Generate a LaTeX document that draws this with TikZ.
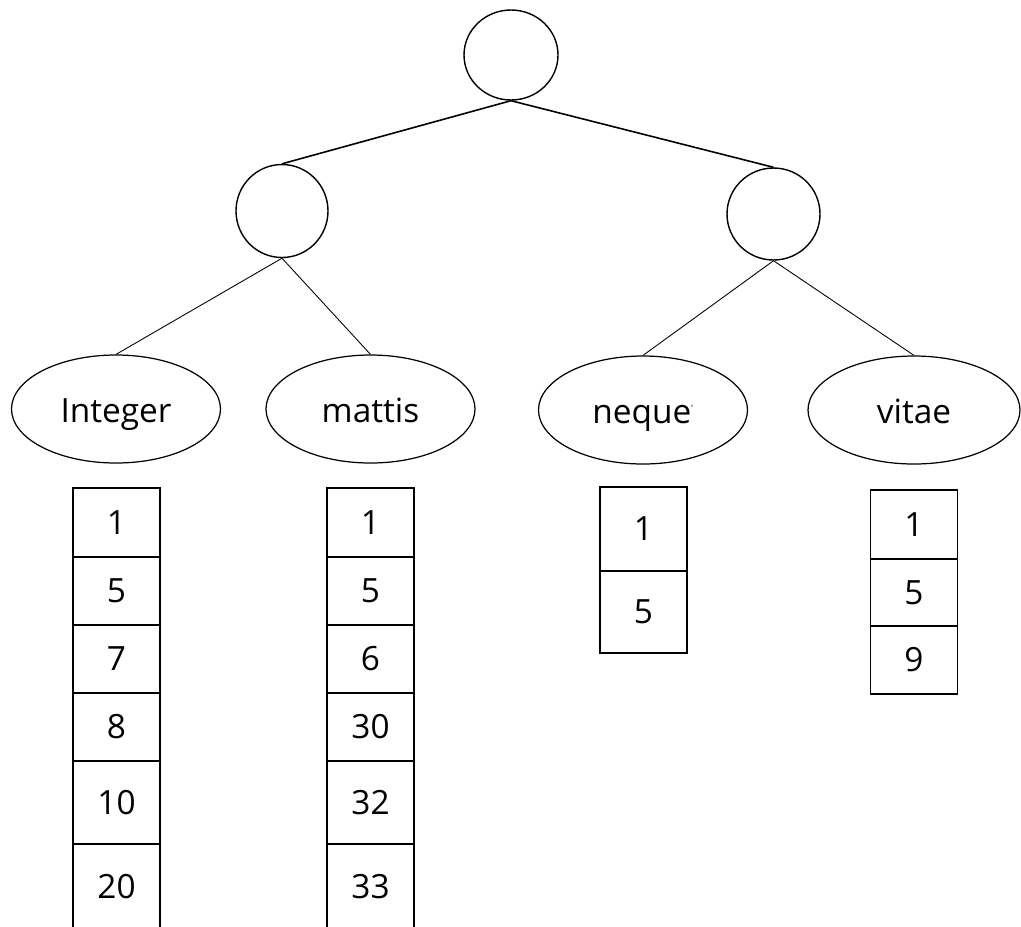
\documentclass[tikz,border=0pt]{standalone}
\usepackage{fontspec}
\setmainfont{Open Sans}
\usepackage{tikz}
\usetikzlibrary{positioning,shapes.geometric}

\begin{document}
\begin{tikzpicture}[
  inode/.style={draw, line width=0.8pt, ellipse, inner sep=0pt},
  word/.style={draw, line width=0.7pt, ellipse, inner sep=0pt, minimum width=4.18cm, minimum height=2.16cm, text height=0.56cm, text depth=0.04cm, font=\fontsize{19}{22}\selectfont},
  cell/.style={draw, line width=0.7pt, anchor=north, inner sep=0pt, outer sep=0pt, minimum width=1.74cm, font=\fontsize{19}{22}\selectfont},
  topedge/.style={line width=0.9pt},
  lowedge/.style={line width=0.5pt}
]
\useasboundingbox (0,0) rectangle (20.42,-18.52);
\clip (0,0) rectangle (20.42,-18.52);

% inner nodes of the tree
\node[inode, minimum width=1.88cm, minimum height=1.80cm] (root) at (10.22,-1.10) {};
\node[inode, minimum width=1.84cm, minimum height=1.86cm] (lnode) at (5.64,-4.22) {};
\node[inode, minimum width=1.86cm, minimum height=1.84cm] (rnode) at (15.47,-4.28) {};

% leaves
\node[word] (integer) at (2.32,-8.18) {Integer};
\node[word] (mattis) at (7.41,-8.18) {mattis};
\node[word] (neque) at (12.86,-8.20) {neque\textsuperscript{\tiny'}};
\node[word, minimum width=4.24cm] (vitae) at (18.28,-8.20) {vitae};

\draw[topedge] (root.south) -- (lnode.north);
\draw[topedge] (root.south) -- (rnode.north);
\draw[lowedge] (lnode.south) -- (integer.north);
\draw[lowedge] (lnode.south) -- (mattis.north);
\draw[lowedge] (rnode.south) -- (neque.north);
\draw[lowedge] (rnode.south) -- (vitae.north);

% posting lists
\foreach \i/\w/\t/\h in {1/1/9.76/1.38,2/5/11.14/1.36,3/7/12.50/1.36,4/8/13.86/1.36,5/10/15.22/1.66,6/20/16.88/1.72} {
  \node[cell, minimum height=\h cm] (int\i) at (2.33,-\t) {\w};
}
\foreach \i/\w/\t/\h in {1/1/9.76/1.38,2/5/11.14/1.36,3/6/12.50/1.36,4/30/13.86/1.36,5/32/15.22/1.66,6/33/16.88/1.72} {
  \node[cell, minimum height=\h cm] (mat\i) at (7.41,-\t) {\w};
}
\foreach \i/\w/\t/\h in {1/1/9.74/1.68,2/5/11.42/1.64} {
  \node[cell, minimum height=\h cm] (neq\i) at (12.87,-\t) {\w};
}
\foreach \i/\w/\t/\h in {1/1/9.80/1.38,2/5/11.18/1.34,3/9/12.52/1.36} {
  \node[cell, minimum height=\h cm] (vit\i) at (18.28,-\t) {\w};
}
\end{tikzpicture}
\end{document}
